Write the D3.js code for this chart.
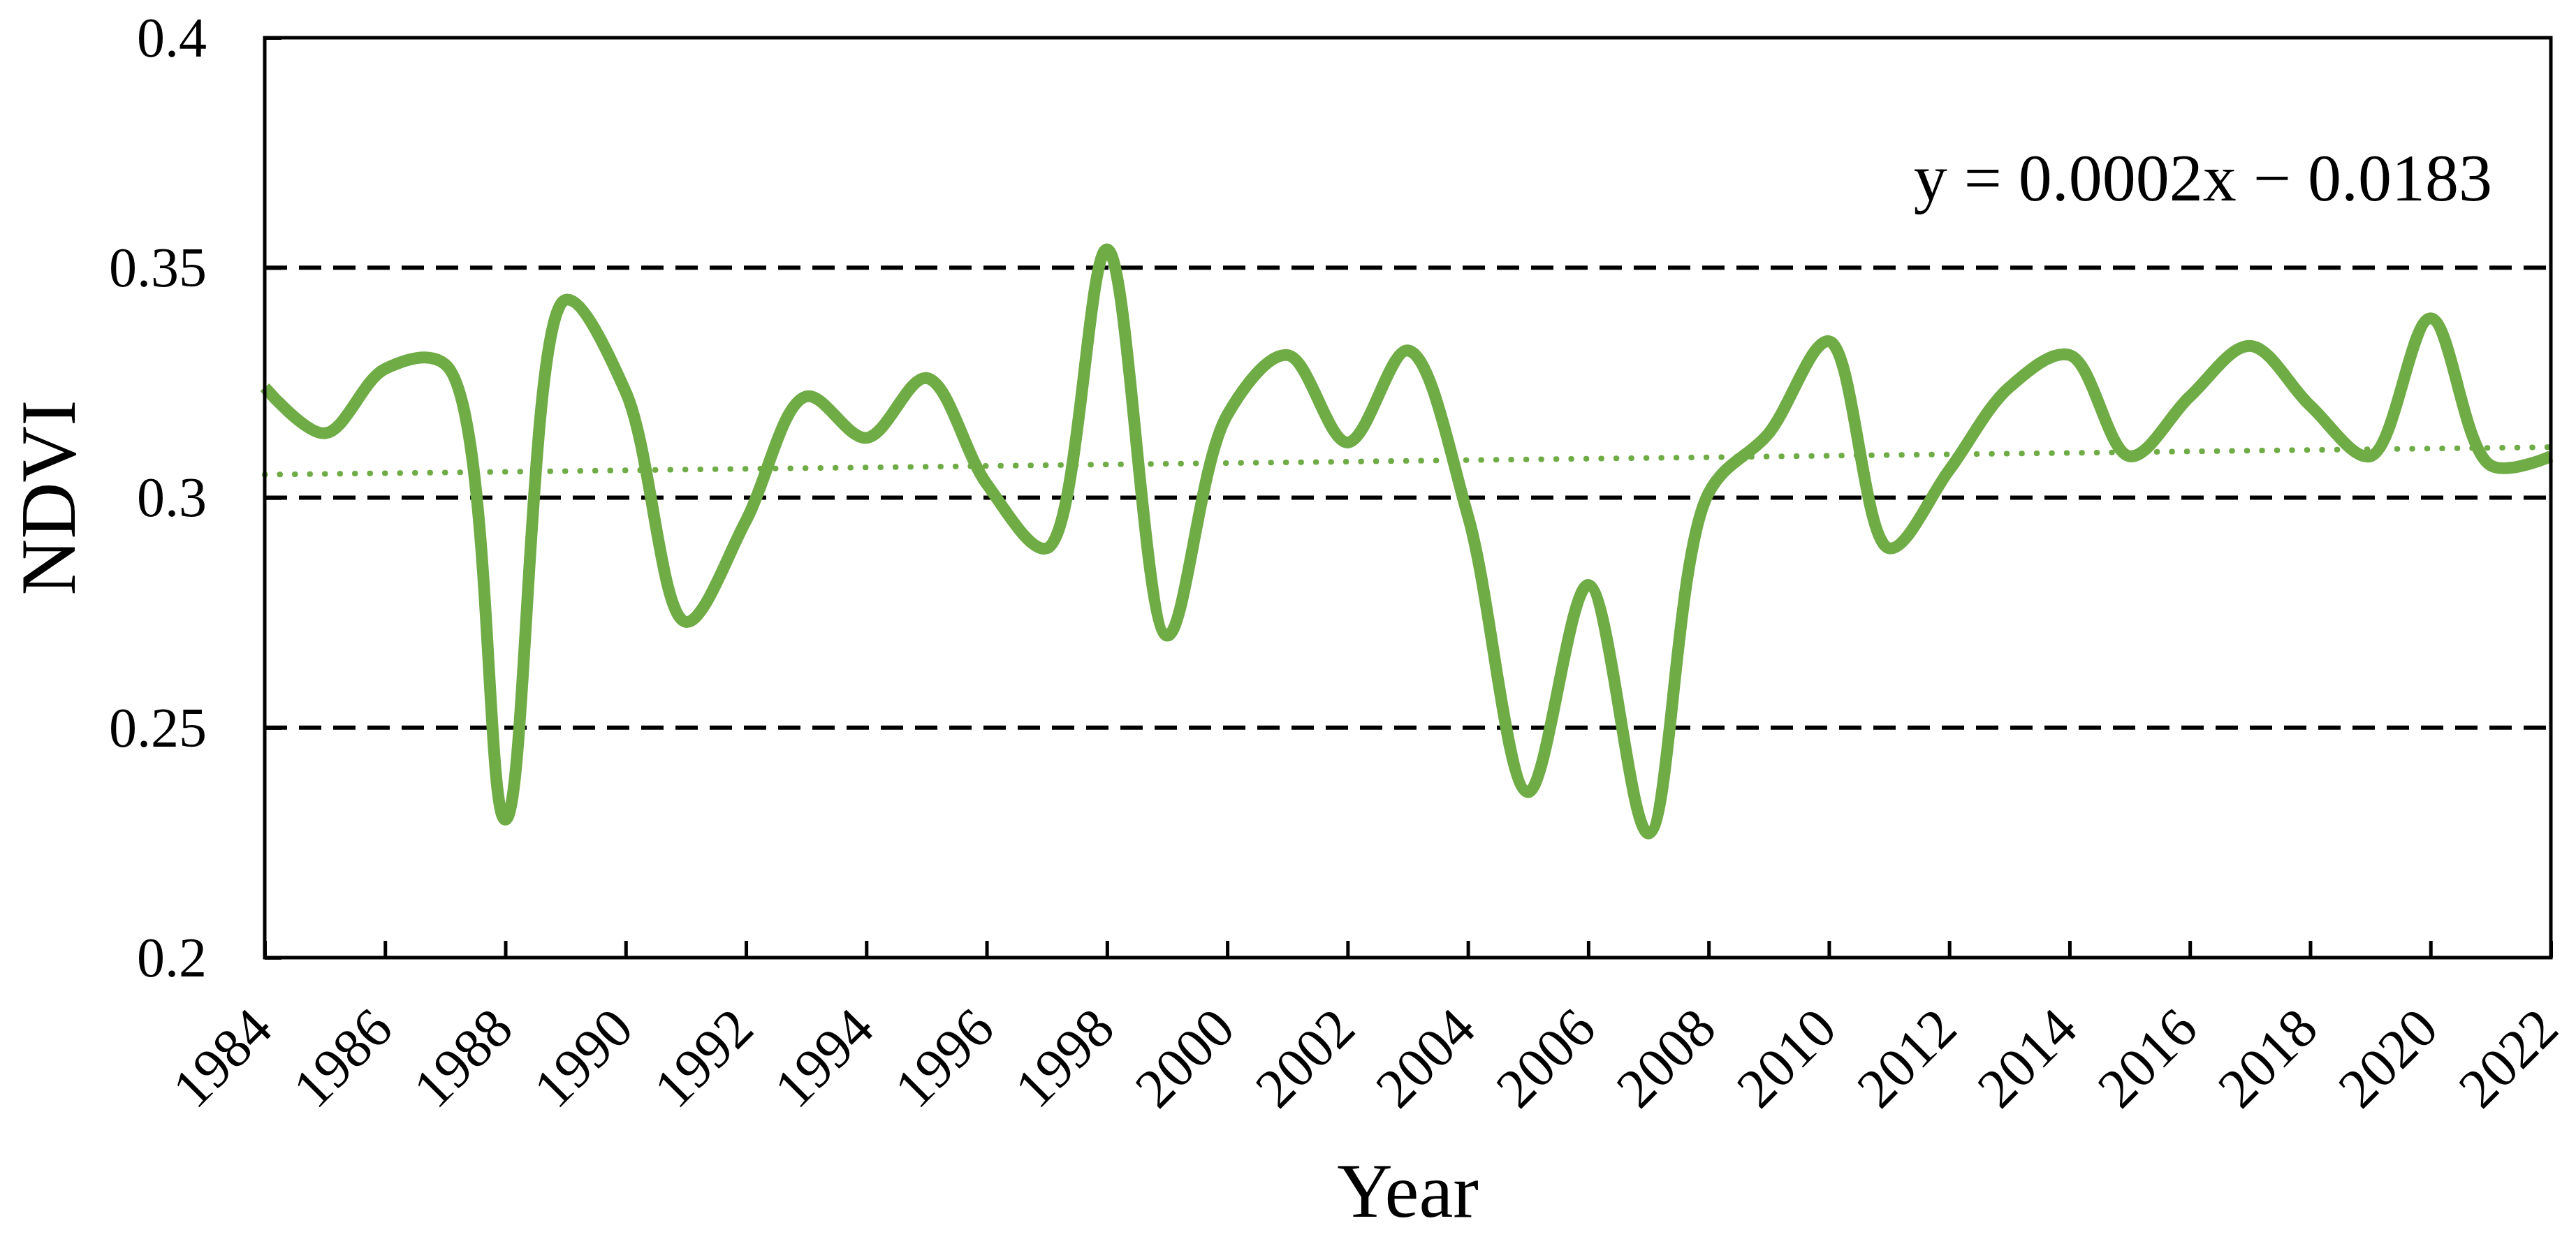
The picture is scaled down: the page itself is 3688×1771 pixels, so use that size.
<!DOCTYPE html>
<html>
<head>
<meta charset="utf-8">
<script src="https://cdn.jsdelivr.net/npm/d3@7"></script>
<style>
  html, body { margin: 0; padding: 0; background: #fff; }
  svg { display: block; }
  text { font-family: "Liberation Serif", "Times New Roman", serif; fill: #000; }
</style>
</head>
<body>
<svg id="chart" width="3688" height="1771"></svg>
<script>
// ---- data ----
const years = [1984,1985,1986,1987,1988,1989,1990,1991,1992,1993,1994,1995,1996,1997,1998,1999,2000,2001,2002,2003,
               2004,2005,2006,2007,2008,2009,2010,2011,2012,2013,2014,2015,2016,2017,2018,2019,2020,2021,2022];
const ndvi = [0.324,0.314,0.328,0.329,0.230,0.343,0.323,0.273,0.295,0.322,0.313,0.326,0.303,0.289,0.354,0.270,0.318,0.331,0.312,0.332,
              0.296,0.236,0.281,0.227,0.301,0.314,0.334,0.289,0.306,0.324,0.331,0.309,0.322,0.333,0.320,0.309,0.339,0.307,0.309];
const trendYears = [1984, 2022];
const trendValues = [0.305, 0.311];
const yTicks = [0.2, 0.25, 0.3, 0.35, 0.4];
const xTicks = [1984,1986,1988,1990,1992,1994,1996,1998,2000,2002,2004,2006,2008,2010,2012,2014,2016,2018,2020,2022];
const gridValues = [0.25, 0.3, 0.35];
const equationText = "y = 0.0002x \u2212 0.0183";
const xTitle = "Year";
const yTitle = "NDVI";

// ---- layout ----
const W = 3688, H = 1771;
const plot = { left: 379, right: 3652, top: 54, bottom: 1371 };
const green = "#6FAC46";

const svg = d3.select("#chart");
svg.append("rect").attr("width", W).attr("height", H).attr("fill", "#fff");

const x = d3.scaleLinear().domain([1984, 2022]).range([plot.left, plot.right]);
const y = d3.scaleLinear().domain([0.2, 0.4]).range([plot.bottom, plot.top]);

// dashed gridlines
svg.append("g").selectAll("line").data(gridValues).join("line")
  .attr("x1", plot.left).attr("x2", plot.right)
  .attr("y1", d => y(d)).attr("y2", d => y(d))
  .attr("stroke", "#000").attr("stroke-width", 6)
  .attr("stroke-dasharray", "32 17");

// trend line (dotted)
const trend = trendYears.map((t, i) => [t, trendValues[i]]);
svg.append("path")
  .attr("d", d3.line().x(d => x(d[0])).y(d => y(d[1]))(trend))
  .attr("fill", "none").attr("stroke", green).attr("stroke-width", 8)
  .attr("stroke-linecap", "round").attr("stroke-dasharray", "0.5 21");

// main smoothed line
const series = years.map((yr, i) => [yr, ndvi[i]]);
svg.append("path")
  .attr("d", d3.line().curve(d3.curveCatmullRom.alpha(0.5)).x(d => x(d[0])).y(d => y(d[1]))(series))
  .attr("fill", "none").attr("stroke", green).attr("stroke-width", 17)
  .attr("stroke-linejoin", "round").attr("stroke-linecap", "butt");

// axes
const fmt = d => d3.format(".2~f")(d);
const yAxis = d3.axisLeft(y).tickValues(yTicks).tickSize(-24).tickPadding(0).tickFormat(fmt);
const gy = svg.append("g").attr("transform", `translate(${plot.left},0)`).call(yAxis);
gy.select(".domain").remove();
gy.selectAll(".tick line").attr("stroke", "#000").attr("stroke-width", 5);
gy.selectAll(".tick text").attr("x", 296 - plot.left).attr("dy", "0.33em")
  .attr("font-size", 80).attr("text-anchor", "end")
  .attr("font-family", "Liberation Serif, Times New Roman, serif");

const xAxis = d3.axisBottom(x).tickValues(xTicks).tickSize(-24).tickFormat(d3.format("d"));
const gx = svg.append("g").attr("transform", `translate(0,${plot.bottom})`).call(xAxis);
gx.select(".domain").remove();
gx.selectAll(".tick line").attr("stroke", "#000").attr("stroke-width", 5);
gx.selectAll(".tick text")
  .attr("y", null).attr("dy", null)
  .attr("text-anchor", "end")
  .attr("font-size", 80)
  .attr("font-family", "Liberation Serif, Times New Roman, serif")
  .attr("transform", "translate(14,106) rotate(-45)");

// frame
svg.append("rect")
  .attr("x", plot.left).attr("y", plot.top)
  .attr("width", plot.right - plot.left).attr("height", plot.bottom - plot.top)
  .attr("fill", "none").attr("stroke", "#000").attr("stroke-width", 5);

// titles
svg.append("text").text(xTitle)
  .attr("x", (plot.left + plot.right) / 2).attr("y", 1742)
  .attr("text-anchor", "middle").attr("font-size", 110);
svg.append("text").text(yTitle)
  .attr("transform", `translate(107,${(plot.top + plot.bottom) / 2}) rotate(-90)`)
  .attr("text-anchor", "middle").attr("font-size", 112);

// equation
svg.append("text").text(equationText)
  .attr("x", 3568).attr("y", 287)
  .attr("text-anchor", "end").attr("font-size", 96);
</script>
</body>
</html>
